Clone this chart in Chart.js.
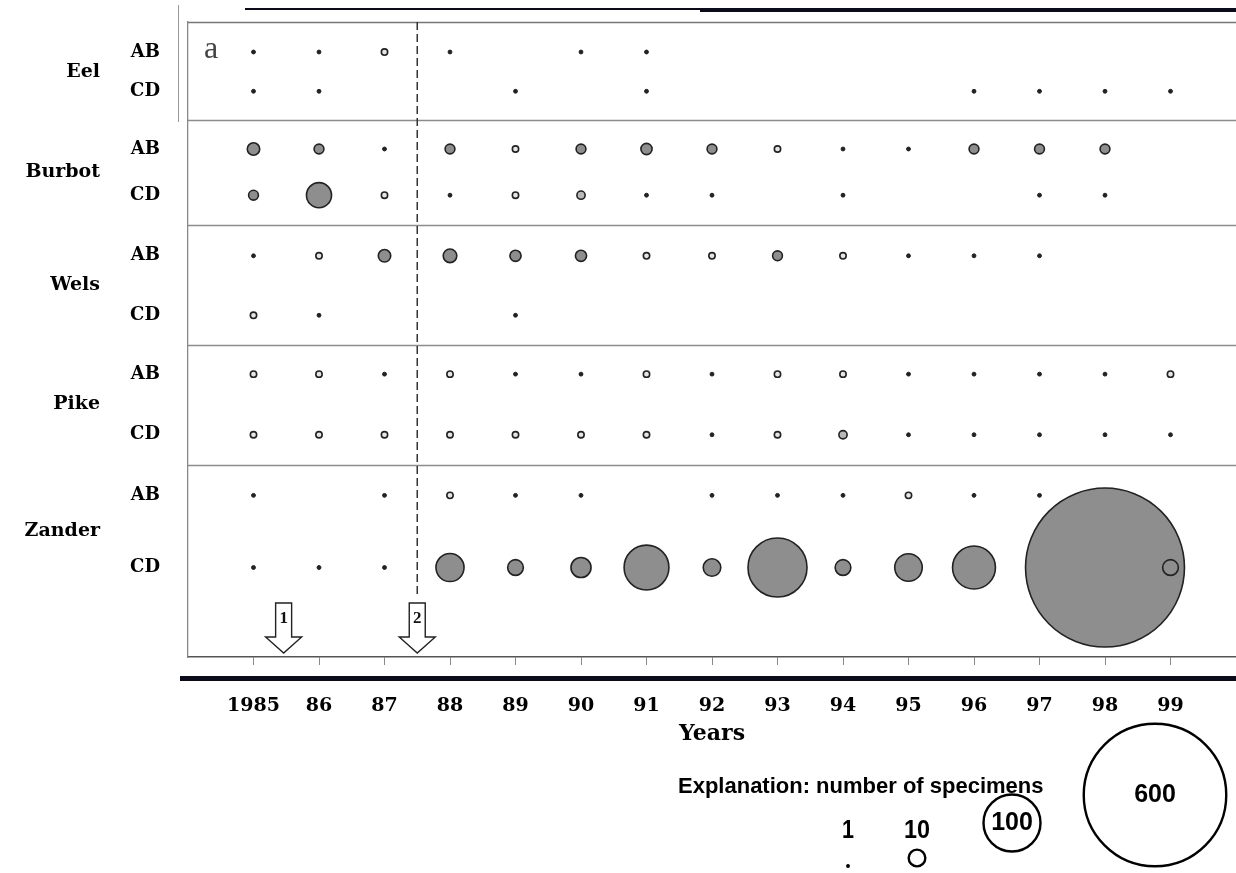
<!DOCTYPE html>
<html>
<head>
<meta charset="utf-8">
<script src="https://cdn.jsdelivr.net/npm/chart.js@4.4.1/dist/chart.umd.min.js"></script>
<style>
  html, body { margin: 0; padding: 0; background: #fff; }
  #wrap { width: 1236px; height: 873px; position: relative; }
</style>
</head>
<body>
<div id="wrap"><canvas id="chart"></canvas></div>
<script>
// years on the x axis and how they are labelled
const years = [1985, 1986, 1987, 1988, 1989, 1990, 1991, 1992, 1993, 1994, 1995, 1996, 1997, 1998, 1999];
const yearLabels = ['1985', '86', '87', '88', '89', '90', '91', '92', '93', '94', '95', '96', '97', '98', '99'];

// rows: species x sampling area
const species = ['Eel', 'Burbot', 'Wels', 'Pike', 'Zander'];
const rowLabels = ['AB', 'CD', 'AB', 'CD', 'AB', 'CD', 'AB', 'CD', 'AB', 'CD'];
const rowY = [0.52, 1.2, 2.2, 3.0, 4.05, 5.08, 6.1, 7.15, 8.2, 9.45];

// number of specimens per year (null = none caught)
const eelAB     = [1, 1, 2, 1, null, 1, 1, null, null, null, null, null, null, null, null];
const eelCD     = [1, 1, null, null, 1, null, 1, null, null, null, null, 1, 1, 1, 1];
const burbotAB  = [6, 4, 1, 4, 2, 4, 5, 4, 2, 1, 1, 4, 4, 4, null];
const burbotCD  = [4, 21, 2, 1, 2, 3, 1, 1, null, 1, null, null, 1, 1, null];
const welsAB    = [1, 2, 6, 7, 5, 5, 2, 2, 4, 2, 1, 1, 1, null, null];
const welsCD    = [2, 1, null, null, 1, null, null, null, null, null, null, null, null, null, null];
const pikeAB    = [2, 2, 1, 2, 1, 1, 2, 1, 2, 2, 1, 1, 1, 1, 2];
const pikeCD    = [2, 2, 2, 2, 2, 2, 2, 1, 2, 3, 1, 1, 1, 1, 1];
const zanderAB  = [1, null, 1, 2, 1, 1, null, 1, 1, 1, 2, 1, 1, null, null];
const zanderCD  = [1, 1, 1, 26, 9, 14, 63, 11, 107, 9, 25, 58, null, 744, 9];
const rows = [eelAB, eelCD, burbotAB, burbotCD, welsAB, welsCD, pikeAB, pikeCD, zanderAB, zanderCD];

// size explanation and the two marked events
const legendCounts = [1, 10, 100, 600];
const eventYears = [1985.46, 1987.5];
const eventLabels = ['1', '2'];

// bubble area grows with the count
function radiusOf(n) {
  return 2.95 * Math.sqrt(n) - 1;
}

const points = [];
rows.forEach((row, ri) => {
  row.forEach((n, yi) => {
    if (n == null) return;
    points.push({ x: years[yi], y: rowY[ri], r: radiusOf(n), n: n });
  });
});

function fillFor(n) {
  if (n === 1) return '#222';
  if (n <= 2) return '#e6e6e6';
  if (n <= 3) return '#b8b8b8';
  return '#8e8e8e';
}

const SERIF = "'DejaVu Serif', 'Liberation Serif', serif";
const TIMES = "'Liberation Serif', serif";
const SANS = "'Liberation Sans', Arial, sans-serif";

function line(ctx, x1, y1, x2, y2) {
  ctx.beginPath();
  ctx.moveTo(x1, y1);
  ctx.lineTo(x2, y2);
  ctx.stroke();
}

const decor = {
  id: 'decor',
  beforeDatasetsDraw(chart) {
    const { ctx, chartArea: a, scales: { x, y } } = chart;
    ctx.save();
    // separators between species
    ctx.strokeStyle = '#8c8c8c';
    ctx.lineWidth = 1.3;
    for (let g = 1; g < species.length; g++) {
      const py = Math.round(y.getPixelForValue((rowY[2 * g - 1] + rowY[2 * g]) / 2)) + 0.5;
      line(ctx, a.left, py, a.right, py);
    }
    // frame top
    ctx.strokeStyle = '#777';
    line(ctx, a.left, a.top + 0.5, a.right, a.top + 0.5);
    // dashed line at event 2
    const dx = x.getPixelForValue(eventYears[1]);
    ctx.strokeStyle = '#333';
    ctx.lineWidth = 1.5;
    ctx.setLineDash([8, 4]);
    line(ctx, dx, a.top, dx, a.bottom - 62);
    ctx.setLineDash([]);
    ctx.restore();
  },
  afterDraw(chart) {
    const { ctx, chartArea: a, scales: { x, y } } = chart;
    ctx.save();

    // scan artefacts: heavy rules
    ctx.fillStyle = '#0b0b1a';
    ctx.fillRect(245, 8, a.right - 245, 2);
    ctx.fillRect(700, 9, a.right - 700, 3);
    ctx.fillRect(180, 676, a.right - 180, 5);
    ctx.fillStyle = '#999';
    ctx.fillRect(178, 5, 1, 117);

    // panel letter
    ctx.fillStyle = '#444';
    ctx.font = '32px ' + TIMES;
    ctx.textAlign = 'left';
    ctx.textBaseline = 'alphabetic';
    ctx.fillText('a', a.left + 16, a.top + 36);

    // species names
    ctx.fillStyle = '#000';
    ctx.font = 'bold 19px ' + SERIF;
    ctx.textAlign = 'right';
    ctx.textBaseline = 'middle';
    species.forEach((s, g) => {
      const py = y.getPixelForValue((rowY[2 * g] + rowY[2 * g + 1]) / 2);
      ctx.fillText(s, 100, py);
    });

    // axis title
    ctx.font = 'bold 22px ' + SERIF;
    ctx.textAlign = 'center';
    ctx.fillText('Years', (a.left + a.right) / 2, 734);

    // event arrows
    eventYears.forEach((ev, i) => {
      const cx = x.getPixelForValue(ev);
      const top = a.bottom - 54;
      const bw = 8, bh = 34, hw = 18, hh = 16;
      ctx.beginPath();
      ctx.moveTo(cx - bw, top);
      ctx.lineTo(cx + bw, top);
      ctx.lineTo(cx + bw, top + bh);
      ctx.lineTo(cx + hw, top + bh);
      ctx.lineTo(cx, top + bh + hh);
      ctx.lineTo(cx - hw, top + bh);
      ctx.lineTo(cx - bw, top + bh);
      ctx.closePath();
      ctx.fillStyle = '#fff';
      ctx.fill();
      ctx.strokeStyle = '#222';
      ctx.lineWidth = 1.4;
      ctx.stroke();
      ctx.fillStyle = '#111';
      ctx.font = 'bold 17px ' + TIMES;
      ctx.textAlign = 'center';
      ctx.textBaseline = 'middle';
      ctx.fillText(eventLabels[i], cx, top + 16);
    });

    // size explanation
    ctx.fillStyle = '#000';
    ctx.font = 'bold 22px ' + SANS;
    ctx.textAlign = 'left';
    ctx.textBaseline = 'middle';
    ctx.fillText('Explanation: number of specimens', 678, 787, 368);

    const legendPos = [[848, 866], [917, 858], [1012, 823], [1155, 795]];
    legendCounts.forEach((n, i) => {
      const [cx, cy] = legendPos[i];
      ctx.beginPath();
      ctx.arc(cx, cy, radiusOf(n), 0, Math.PI * 2);
      ctx.strokeStyle = '#000';
      ctx.lineWidth = 2.4;
      if (n === 1) {
        ctx.fillStyle = '#000';
        ctx.fill();
      } else {
        ctx.stroke();
      }
      ctx.fillStyle = '#000';
      ctx.textAlign = 'center';
      ctx.textBaseline = 'middle';
      ctx.font = 'bold 25px ' + SANS;
      if (n < 100) {
        ctx.fillText(String(n), cx, 831, n < 10 ? 12 : 26);
      } else {
        ctx.fillText(String(n), cx, cy, n < 600 ? 50 : 46);
      }
    });

    ctx.restore();
  }
};

new Chart(document.getElementById('chart'), {
  type: 'bubble',
  data: {
    datasets: [{
      data: points,
      backgroundColor: c => (c.raw ? fillFor(c.raw.n) : '#8e8e8e'),
      borderColor: '#222',
      borderWidth: c => (c.raw && c.raw.n === 1 ? 1 : 1.6),
      clip: false
    }]
  },
  options: {
    responsive: true,
    maintainAspectRatio: false,
    animation: false,
    layout: { autoPadding: false, padding: { top: 22, right: 0, left: 0, bottom: 0 } },
    plugins: {
      legend: { display: false },
      tooltip: { enabled: false }
    },
    scales: {
      x: {
        type: 'linear',
        min: 1984,
        max: 2000,
        afterBuildTicks: axis => { axis.ticks = years.map(v => ({ value: v })); },
        afterFit: axis => { axis.height = 216; axis.paddingLeft = 0; axis.paddingRight = 0; },
        grid: { drawOnChartArea: false, drawTicks: true, tickLength: 8, color: '#888' },
        border: { display: true, color: '#555', width: 1.5 },
        ticks: {
          autoSkip: false,
          maxRotation: 0,
          padding: 30,
          color: '#000',
          font: { family: SERIF, size: 19, weight: 'bold' },
          callback: (v, i) => yearLabels[i]
        }
      },
      y: {
        type: 'linear',
        reverse: true,
        min: 0,
        max: 11,
        afterBuildTicks: axis => { axis.ticks = rowY.map(v => ({ value: v })); },
        afterFit: axis => { axis.width = 188; axis.paddingTop = 0; axis.paddingBottom = 0; },
        grid: { display: false, drawTicks: false },
        border: { display: true, color: '#888', width: 1.3 },
        ticks: {
          autoSkip: false,
          padding: 28,
          color: '#000',
          font: { family: SERIF, size: 18, weight: 'bold' },
          callback: (v, i) => rowLabels[i]
        }
      }
    }
  },
  plugins: [decor]
});
</script>
</body>
</html>
